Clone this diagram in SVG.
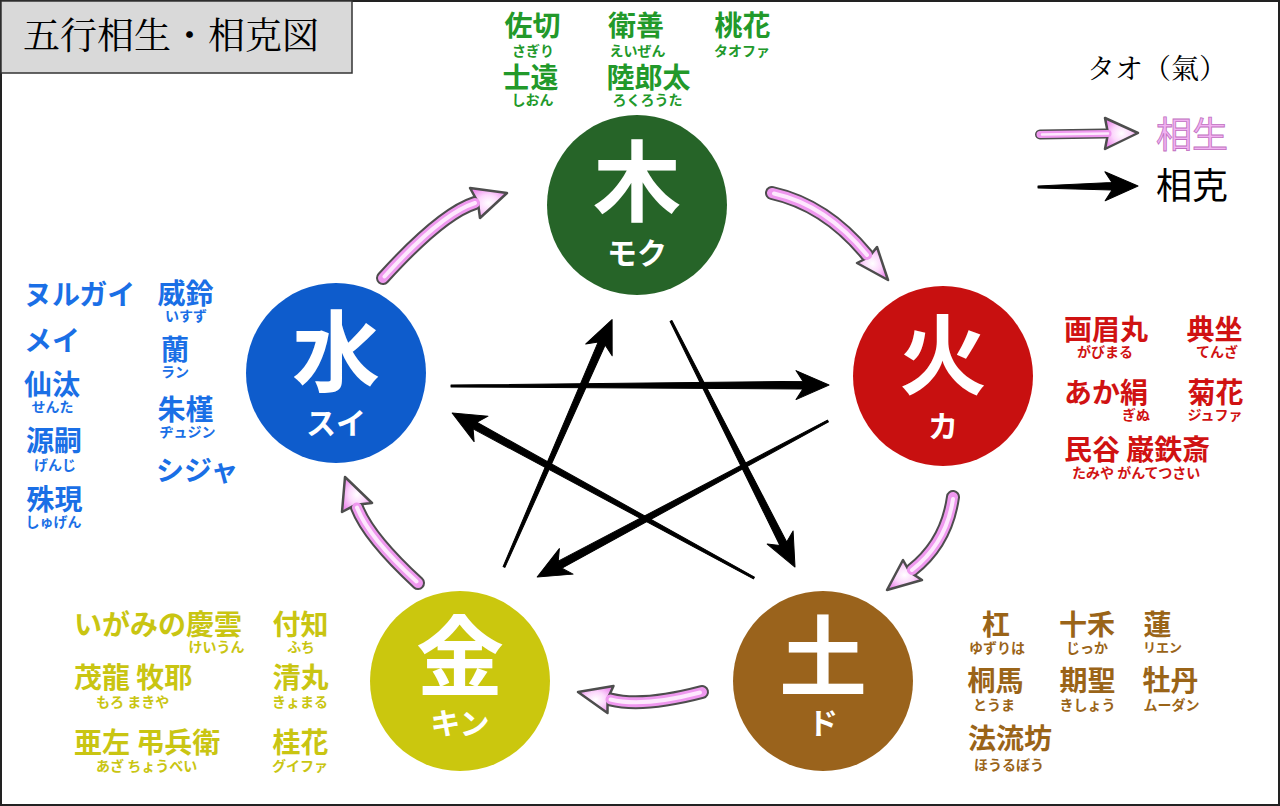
<svg xmlns="http://www.w3.org/2000/svg" width="1280" height="806" viewBox="0 0 1280 806">
<defs>
<style>
text{font-family:"Noto Sans CJK JP","Noto Sans",sans-serif}
.serif{font-family:"Noto Serif CJK JP","Noto Sans CJK JP",serif}
.nm{font-size:28px;font-weight:700}
.fg{font-size:14px;font-weight:700}
.mid{text-anchor:middle}
.gr{fill:#22992a}.rd{fill:#d01212}.br{fill:#9a6418}.ye{fill:#c9c512}.bl{fill:#1a6fe6}
.big{font-size:88px;font-weight:700;fill:#fff;text-anchor:middle}
.kn{font-size:30px;font-weight:700;fill:#fff;text-anchor:middle}
.so{fill:none;stroke:#4d4d4d;stroke-width:14;stroke-linecap:round}
.si{fill:none;stroke:#ef98ef;stroke-width:10;stroke-linecap:round}
.sw{fill:none;stroke:#fde8fd;stroke-width:4;stroke-linecap:round}
.sh{fill:url(#hg);stroke:#4d4d4d;stroke-width:2.5;stroke-linejoin:round}
.ko{fill:#000;stroke:#000;stroke-width:1;stroke-linejoin:round}
</style>
<radialGradient id="hg" cx="50%" cy="50%" r="55%">
<stop offset="0" stop-color="#ffffff"/>
<stop offset="0.5" stop-color="#fcd8fc"/>
<stop offset="1" stop-color="#ee8cee"/>
</radialGradient>
</defs>
<rect x="1" y="1" width="1278" height="804" fill="#fff" stroke="#222" stroke-width="2"/>
<g id="title">
<rect x="1" y="1" width="351" height="72" fill="#d9d9d9" stroke="#333" stroke-width="1.5"/>
<text class="serif" x="23" y="49" font-size="37" fill="#000" font-weight="400">五行相生・相克図</text>
</g>
<g id="legend">
<text class="serif" x="1087" y="79" font-size="28" fill="#000">タオ（氣）</text>
<path class="so" d="M1040,134.5 L1105,133.5" style="stroke-width:10"/>
<polygon class="sh" points="1105,118 1138,133 1105,149 1108,133.5"/>
<path class="si" d="M1040,134.5 L1108,133.5" style="stroke-width:7"/>
<path class="sw" d="M1042,134.5 L1108,133.5" style="stroke-width:2.5"/>
<text x="1156" y="148" font-size="36" fill="#f2b2f2" stroke="#c070c0" stroke-width="0.8">相生</text>
<polygon class="ko" transform="translate(1038,187) rotate(-0.6)" points="0,-1 74,-3.8 67,-14.5 100,0 67,14.5 74,3.8 0,1"/>
<text x="1156" y="199" font-size="36" fill="#000">相克</text>
</g>
<g id="connectors">
<g id="sokoku">
<polygon class="ko" transform="translate(451,386) rotate(-0.15)" points="0,-1 352,-3.8 345,-14.5 378,0 345,14.5 352,3.8 0,1"/>
<polygon class="ko" transform="translate(828,421) rotate(151.8)" points="0,-1 304,-4 297,-14.5 330,0 297,14.5 304,4 0,1"/>
<polygon class="ko" transform="translate(504,567) rotate(-66.4)" points="0,-1 244,-3.8 237,-14.5 270,0 237,14.5 244,3.8 0,1"/>
<polygon class="ko" transform="translate(671,321) rotate(63.25)" points="0,-1 249.5,-3.8 242.5,-14.5 275.5,0 242.5,14.5 249.5,3.8 0,1"/>
<polygon class="ko" transform="translate(754,578) rotate(-151.35)" points="0,-1 318,-3.8 311,-14.5 344,0 311,14.5 318,3.8 0,1"/>
</g>
<g id="sosho">
<path class="so" d="M772,193 Q826,205 867,255"/>
<polygon class="sh" points="877,247 888,280 857,263 869,257"/>
<path class="si" d="M772,193 Q826,205 867,255"/>
<path class="sw" d="M774,193.5 Q826,205 867,255"/>

<path class="so" d="M953,497 Q946.5,543 912,570"/>
<polygon class="sh" points="903,560 887,590 922,580 909.6,571.9"/>
<path class="si" d="M953,497 Q946.5,543 912,570"/>
<path class="sw" d="M953,499 Q946.5,543 912,570"/>

<path class="so" d="M702,692 Q643,707.5 610.5,699.5"/>
<polygon class="sh" points="613.5,686 578,692 607.5,713 607.6,698.8"/>
<path class="si" d="M702,692 Q643,707.5 610.5,699.5"/>
<path class="sw" d="M700,692.5 Q643,707.5 610.5,699.5"/>

<path class="so" d="M418,583 Q368.5,537.4 357,507.5"/>
<polygon class="sh" points="342,512 345,477 372,503 355.9,504.7"/>
<path class="si" d="M418,583 Q368.5,537.4 357,507.5"/>
<path class="sw" d="M416.5,581.5 Q368.5,537.4 357,507.5"/>

<path class="so" d="M383,278 Q441.5,213.6 475,203"/>
<polygon class="sh" points="470,188 507,193 480,218 477.9,202.1"/>
<path class="si" d="M383,278 Q441.5,213.6 475,203"/>
<path class="sw" d="M384.5,276.5 Q441.5,213.6 475,203"/>
</g>
</g>
<g id="moku">
<circle cx="637" cy="205" r="90" fill="#266428"/>
<text class="big" x="637" y="214">木</text>
<text class="kn" x="637" y="264">モク</text>
<text class="nm gr mid" x="532.5" y="36">佐切</text>
<text class="fg gr mid" x="533" y="56">さぎり</text>
<text class="nm gr mid" x="636" y="36">衛善</text>
<text class="fg gr mid" x="637.5" y="56">えいぜん</text>
<text class="nm gr mid" x="742.5" y="36">桃花</text>
<text class="fg gr mid" x="742" y="56">タオファ</text>
<text class="nm gr mid" x="530.5" y="88">士遠</text>
<text class="fg gr mid" x="532.5" y="105">しおん</text>
<text class="nm gr mid" x="648.5" y="88">陸郎太</text>
<text class="fg gr mid" x="647.5" y="105">ろくろうた</text>
</g>
<g id="ka">
<circle cx="943" cy="376" r="90" fill="#c81010"/>
<text class="big" x="943" y="387">火</text>
<text class="kn" x="943" y="437">カ</text>
<text class="nm rd" x="1064" y="340">画眉丸</text>
<text class="fg rd mid" x="1105" y="357">がびまる</text>
<text class="nm rd mid" x="1214.5" y="340">典坐</text>
<text class="fg rd mid" x="1217" y="357">てんざ</text>
<text class="nm rd" x="1064" y="403">あか絹</text>
<text class="fg rd mid" x="1136" y="420">ぎぬ</text>
<text class="nm rd mid" x="1215.5" y="403">菊花</text>
<text class="fg rd mid" x="1215" y="420">ジュファ</text>
<text class="nm rd" x="1064" y="460">民谷 巌鉄斎</text>
<text class="fg rd" x="1072" y="478">たみや がんてつさい</text>
</g>
<g id="do">
<circle cx="823" cy="681" r="90" fill="#9a631c"/>
<text class="big" x="823" y="689">土</text>
<text class="kn" x="823" y="734">ド</text>
<text class="nm br mid" x="996" y="635">杠</text>
<text class="fg br mid" x="997" y="653">ゆずりは</text>
<text class="nm br mid" x="1087" y="635">十禾</text>
<text class="fg br mid" x="1087" y="653">じっか</text>
<text class="nm br mid" x="1157.5" y="635">蓮</text>
<text class="fg br mid" x="1162.5" y="652" style="font-size:13px">リエン</text>
<text class="nm br mid" x="995.5" y="691">桐馬</text>
<text class="fg br mid" x="994" y="710">とうま</text>
<text class="nm br mid" x="1087.5" y="691">期聖</text>
<text class="fg br mid" x="1087.5" y="710">きしょう</text>
<text class="nm br mid" x="1170.5" y="691">牡丹</text>
<text class="fg br mid" x="1171.5" y="710">ムーダン</text>
<text class="nm br mid" x="1010" y="749">法流坊</text>
<text class="fg br mid" x="1009" y="770">ほうるぼう</text>
</g>
<g id="kin">
<circle cx="460" cy="681" r="90" fill="#cbc70e"/>
<text class="big" x="460" y="689">金</text>
<text class="kn" x="460" y="734">キン</text>
<text class="nm ye" x="74" y="635">いがみの慶雲</text>
<text class="fg ye mid" x="216.5" y="652">けいうん</text>
<text class="nm ye mid" x="300.5" y="635">付知</text>
<text class="fg ye mid" x="301" y="652">ふち</text>
<text class="nm ye" x="74" y="688">茂龍 牧耶</text>
<text class="fg ye" x="96" y="707">もろ まきや</text>
<text class="nm ye mid" x="300.5" y="688">清丸</text>
<text class="fg ye mid" x="300" y="707">きょまる</text>
<text class="nm ye" x="74" y="753">亜左 弔兵衛</text>
<text class="fg ye" x="96" y="771">あざ ちょうべい</text>
<text class="nm ye mid" x="300.5" y="753">桂花</text>
<text class="fg ye mid" x="300" y="771">グイファ</text>
</g>
<g id="sui">
<circle cx="336" cy="373" r="90" fill="#0e5ccc"/>
<text class="big" x="336" y="384">水</text>
<text class="kn" x="336" y="434">スイ</text>
<text class="nm bl" x="24" y="305">ヌルガイ</text>
<text class="nm bl" x="24" y="351">メイ</text>
<text class="nm bl" x="24" y="395">仙汰</text>
<text class="fg bl mid" x="52.5" y="412">せんた</text>
<text class="nm bl mid" x="54" y="451">源嗣</text>
<text class="fg bl mid" x="55" y="470">げんじ</text>
<text class="nm bl mid" x="54.5" y="510">殊現</text>
<text class="fg bl mid" x="53.5" y="527">しゅげん</text>
<text class="nm bl mid" x="185.5" y="304">威鈴</text>
<text class="fg bl mid" x="186" y="321">いすず</text>
<text class="nm bl mid" x="175" y="360">蘭</text>
<text class="fg bl mid" x="175" y="377">ラン</text>
<text class="nm bl mid" x="185.5" y="420">朱槿</text>
<text class="fg bl mid" x="187.5" y="437">ヂュジン</text>
<text class="nm bl" x="156" y="481">シジャ</text>
</g>
</svg>
